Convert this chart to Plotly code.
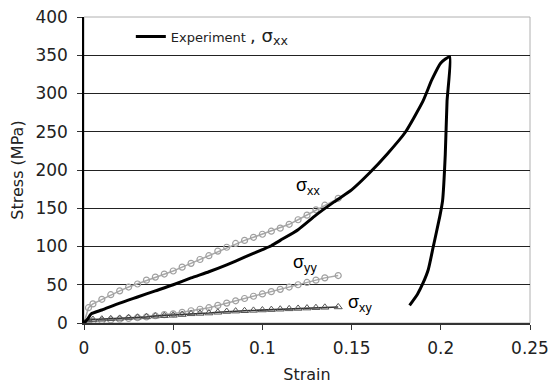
import plotly.graph_objects as go

# Experiment (sigma_xx)
exp_strain = [0, 0.002, 0.004, 0.01, 0.02, 0.03, 0.04, 0.05, 0.06, 0.07, 0.08, 0.09, 0.1, 0.105,
              0.11, 0.12, 0.13, 0.14, 0.15, 0.16, 0.17, 0.18, 0.19, 0.195, 0.2, 0.205,
              0.2035, 0.2025, 0.201, 0.1995, 0.1958, 0.193, 0.19, 0.187, 0.1825]
exp_stress = [0, 5, 12, 17, 26, 34, 42, 50, 59, 67, 76, 86, 96, 101,
              108, 122, 141, 158, 174, 196, 221, 249, 290, 318, 340, 348,
              290, 220, 160, 140, 100, 70, 52, 38, 23]

# Simulation
sim_strain = [0, 0.0025, 0.005, 0.01, 0.015, 0.02, 0.025, 0.03, 0.035, 0.04, 0.045, 0.05, 0.055,
              0.06, 0.065, 0.07, 0.075, 0.08, 0.085, 0.09, 0.095, 0.1, 0.105, 0.11, 0.115,
              0.12, 0.125, 0.13, 0.135, 0.1425]
sxx = [0, 20, 25, 31, 37, 42, 47, 51, 56, 60, 64, 68, 73, 78, 83, 88, 94, 99, 104, 108, 112,
       116, 120, 124, 129, 135, 141, 148, 154, 163]
syy = [0, 1.5, 2, 3, 4, 5, 6, 7, 8, 9.5, 11, 12, 14, 16, 18, 20, 23, 26, 29, 32, 35, 38, 41,
       44, 47, 50, 53, 56, 59, 62]
sxy = [0, 4, 4.5, 5, 5.5, 6, 7, 7.5, 8, 9, 9.5, 10, 11, 12, 12.5, 13, 14, 15, 15.5, 16, 16.5,
       17, 17.5, 18, 18.5, 19, 19.5, 20, 20.5, 21]

x_ticks = [0, 0.05, 0.1, 0.15, 0.2, 0.25]
x_labels = ["0", "0.05", "0.1", "0.15", "0.2", "0.25"]
y_ticks = [0, 50, 100, 150, 200, 250, 300, 350, 400]

fig = go.Figure()
fig.add_trace(go.Scatter(x=sim_strain, y=sxx, mode="lines+markers", showlegend=False,
                         line=dict(color="#a8a8a8", width=1.5),
                         marker=dict(symbol="circle-open", size=6, color="#a0a0a0",
                                     line=dict(width=1.2))))
fig.add_trace(go.Scatter(x=sim_strain, y=syy, mode="lines+markers", showlegend=False,
                         line=dict(color="#a8a8a8", width=1.5),
                         marker=dict(symbol="circle-open", size=6, color="#a0a0a0",
                                     line=dict(width=1.2))))
fig.add_trace(go.Scatter(x=sim_strain, y=sxy, mode="lines+markers", showlegend=False,
                         line=dict(color="#333333", width=1.5),
                         marker=dict(symbol="triangle-up-open", size=7, color="#555555",
                                     line=dict(width=1))))
fig.add_trace(go.Scatter(x=exp_strain, y=exp_stress, mode="lines",
                         name="Experiment <span style='font-size:18px'>, σ<sub>xx</sub></span>",
                         line=dict(color="black", width=3, shape="spline", smoothing=0.5)))

lab_font = dict(family="Liberation Sans, Arial, sans-serif", size=18, color="black")
fig.add_annotation(x=0.1255, y=178, text="σ<sub>xx</sub>", showarrow=False, font=lab_font)
fig.add_annotation(x=0.124, y=78, text="σ<sub>yy</sub>", showarrow=False, font=lab_font)
fig.add_annotation(x=0.1545, y=25, text="σ<sub>xy</sub>", showarrow=False, font=lab_font)

fig.update_layout(
    width=555, height=385,
    margin=dict(l=84, r=25, t=17, b=62, autoexpand=False),
    paper_bgcolor="white", plot_bgcolor="white",
    font=dict(family="DejaVu Sans, Verdana, sans-serif", size=17, color="#222222"),
    legend=dict(x=0.105, y=0.985, xanchor="left", yanchor="top",
                bgcolor="rgba(0,0,0,0)", font=dict(size=13, color="#222222"),
                itemwidth=30),
    shapes=[dict(type="rect", xref="paper", yref="paper", x0=0, y0=0, x1=1, y1=1,
                 line=dict(color="#b0b0b0", width=1), layer="below")],
)
fig.update_xaxes(range=[0, 0.25], tickvals=x_ticks, ticktext=x_labels, automargin=False,
                 showgrid=False, zeroline=False, showline=True, linecolor="#333333", linewidth=1.5,
                 ticks="outside", ticklen=5, tickcolor="#333333", ticklabelstandoff=4,
                 title=dict(text="Strain", font=dict(size=16), standoff=12))
fig.update_yaxes(range=[0, 400], tickvals=y_ticks, showgrid=True, gridcolor="#222222", gridwidth=1.2,
                 zeroline=False, showline=True, linecolor="black", linewidth=1.5, automargin=False,
                 ticks="outside", ticklen=5, tickcolor="#333333", ticklabelstandoff=6,
                 title=dict(text="Stress (MPa)", font=dict(size=16), standoff=8))

fig.write_html("out.html")
